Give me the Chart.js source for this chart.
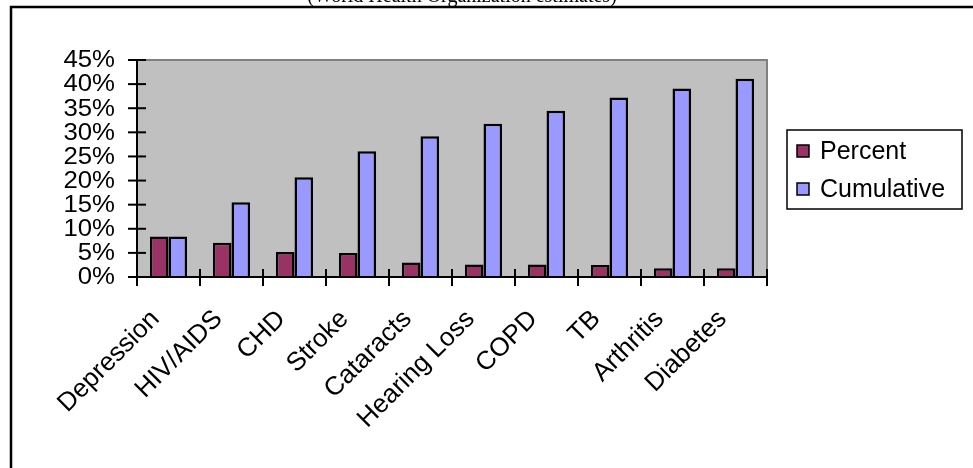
<!DOCTYPE html>
<html>
<head>
<meta charset="utf-8">
<script src="https://cdn.jsdelivr.net/npm/chart.js@4"></script>
<style>
  html, body { margin: 0; padding: 0; background: #fff; }
  #wrap { width: 973px; height: 468px; }
</style>
</head>
<body>
<div id="wrap"><canvas id="chart" width="973" height="468"></canvas></div>
<script>
// data
const categories = ["Depression", "HIV/AIDS", "CHD", "Stroke", "Cataracts",
  "Hearing Loss", "COPD", "TB", "Arthritis", "Diabetes"];
const percent = [8.4, 7.1, 5.2, 5.0, 3.0, 2.6, 2.6, 2.5, 1.8, 1.8];
const cumulative = [8.4, 15.5, 20.7, 26.1, 29.2, 31.8, 34.5, 37.2, 39.1, 41.1];
const yTicks = [0, 5, 10, 15, 20, 25, 30, 35, 40, 45];

const FONT = "'Liberation Sans', Arial, sans-serif";

// frame, grey plot border, crossing ticks, y labels and legend
const decor = {
  id: "decor",
  beforeDraw(chart) {
    const { ctx, chartArea: a } = chart;
    ctx.save();
    ctx.fillStyle = "#c0c0c0";
    ctx.fillRect(a.left, a.top, a.right - a.left, a.bottom - a.top);
    ctx.restore();
  },
  afterDraw(chart) {
    const { ctx, chartArea: a } = chart;
    const xs = chart.scales.x, ys = chart.scales.y;
    ctx.save();

    // clipped caption at the very top
    ctx.fillStyle = "#000";
    ctx.font = "20px 'Liberation Serif', serif";
    ctx.textAlign = "center";
    ctx.textBaseline = "alphabetic";
    ctx.fillText("(World Health Organization estimates)", 462, 2);

    // outer frame
    ctx.strokeStyle = "#000";
    ctx.lineWidth = 2.5;
    ctx.beginPath();
    ctx.moveTo(11, 470);
    ctx.lineTo(11, 7);
    ctx.lineTo(975, 7);
    ctx.stroke();

    // grey border top/right
    ctx.strokeStyle = "#808080";
    ctx.lineWidth = 2;
    ctx.beginPath();
    ctx.moveTo(a.left, a.top);
    ctx.lineTo(a.right, a.top);
    ctx.lineTo(a.right, a.bottom);
    ctx.stroke();

    // axes
    ctx.strokeStyle = "#000";
    ctx.lineWidth = 2;
    ctx.beginPath();
    ctx.moveTo(a.left, a.top);
    ctx.lineTo(a.left, a.bottom);
    ctx.lineTo(a.right, a.bottom);
    ctx.stroke();

    // y ticks crossing the axis, with stretched labels
    ctx.fillStyle = "#000";
    ctx.font = "23px " + FONT;
    ctx.textAlign = "right";
    ctx.textBaseline = "middle";
    ys.ticks.forEach(t => {
      const y = ys.getPixelForValue(t.value);
      ctx.beginPath();
      ctx.moveTo(a.left - 9, y);
      ctx.lineTo(a.left + 9, y);
      ctx.stroke();
      ctx.save();
      ctx.translate(a.left - 22, y + 1);
      ctx.scale(1.12, 1);
      ctx.fillText(t.value + "%", 0, 0);
      ctx.restore();
    });
    // x ticks at category boundaries
    const n = categories.length;
    for (let i = 0; i <= n; i++) {
      const x = xs.left + i * (xs.right - xs.left) / n;
      ctx.beginPath();
      ctx.moveTo(x, a.bottom - 8);
      ctx.lineTo(x, a.bottom + 9);
      ctx.stroke();
    }

    // legend
    const lx = 787, ly = 130, lw = 175, lh = 79;
    ctx.fillStyle = "#fff";
    ctx.fillRect(lx, ly, lw, lh);
    ctx.lineWidth = 1.5;
    ctx.strokeRect(lx, ly, lw, lh);
    ctx.font = "25px " + FONT;
    ctx.textAlign = "left";
    ctx.textBaseline = "middle";
    chart.data.datasets.forEach((ds, i) => {
      const cy = ly + 21 + i * 38;
      ctx.fillStyle = ds.backgroundColor;
      ctx.fillRect(lx + 10, cy - 6, 12, 12);
      ctx.strokeStyle = "#000";
      ctx.lineWidth = 1.5;
      ctx.strokeRect(lx + 10, cy - 6, 12, 12);
      ctx.fillStyle = "#000";
      ctx.fillText(ds.label, lx + 33, cy + 1);
    });
    ctx.restore();
  }
};

new Chart(document.getElementById("chart"), {
  type: "bar",
  data: {
    labels: categories,
    datasets: [
      { label: "Percent", data: percent, backgroundColor: "#993366",
        borderColor: "#000", borderWidth: 2.5, borderSkipped: "bottom" },
      { label: "Cumulative", data: cumulative, backgroundColor: "#9999ff",
        borderColor: "#000", borderWidth: 2.5, borderSkipped: "bottom" }
    ]
  },
  options: {
    responsive: false,
    animation: false,
    devicePixelRatio: 1,
    layout: { padding: { top: 60, right: 206, left: 0, bottom: 0 } },
    datasets: { bar: { categoryPercentage: 0.59, barPercentage: 1 } },
    plugins: { legend: { display: false }, tooltip: { enabled: false } },
    scales: {
      x: {
        grid: { display: false, drawTicks: false },
        border: { display: false },
        ticks: {
          color: "#000",
          font: { family: FONT, size: 26 },
          minRotation: 45, maxRotation: 45,
          autoSkip: false, padding: 27, labelOffset: -13
        },
        afterFit(s) { s.height = 191; }
      },
      y: {
        min: 0, max: 45,
        afterBuildTicks(s) { s.ticks = yTicks.map(v => ({ value: v })); },
        grid: { display: false, drawTicks: false },
        border: { display: false },
        ticks: { display: false, autoSkip: false },
        afterFit(s) { s.width = 137; }
      }
    }
  },
  plugins: [decor]
});
</script>
</body>
</html>
